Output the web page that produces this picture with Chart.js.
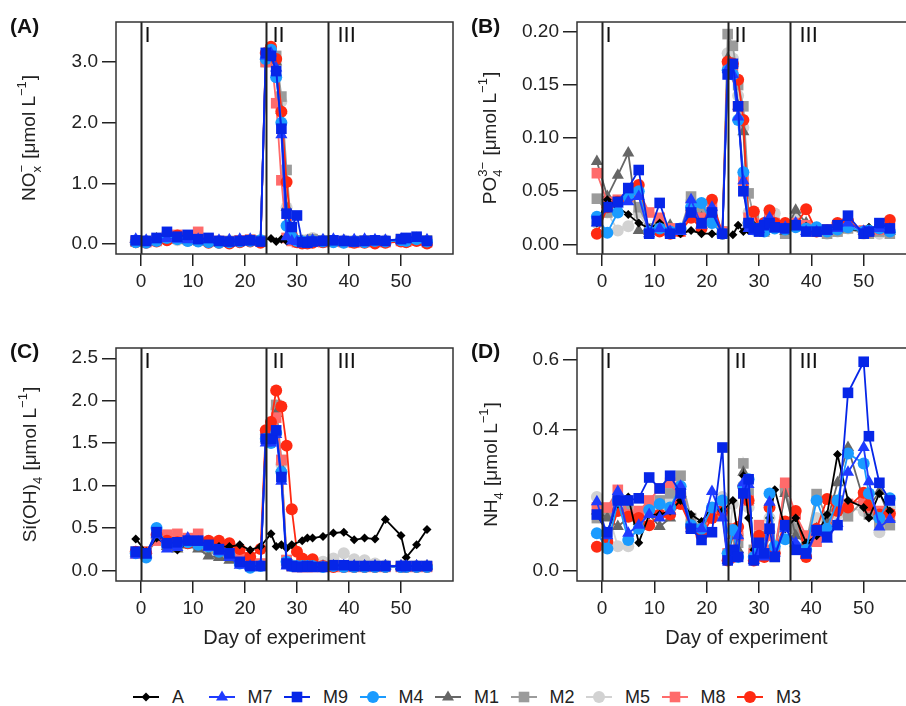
<!DOCTYPE html>
<html>
<head>
<meta charset="utf-8">
<script src="https://cdn.jsdelivr.net/npm/chart.js@4.4.1/dist/chart.umd.min.js"></script>
<style>
html, body { margin:0; padding:0; background:#fff; overflow:hidden; }
body { width:906px; height:706px; position:relative; font-family:'Liberation Sans', Arial, sans-serif; }
canvas { position:absolute; }
#legend { position:absolute; left:0; top:684px; width:906px; height:26px; }
.item { position:absolute; top:0; height:26px; display:flex; align-items:center; font-size:18px; color:#222; }
.item svg { margin-right:13px; }
</style>
</head>
<body>
<canvas id="pA" width="454" height="300" style="left:0;top:0"></canvas>
<canvas id="pB" width="470" height="300" style="left:453px;top:0"></canvas>
<canvas id="pC" width="454" height="330" style="left:0;top:320px"></canvas>
<canvas id="pD" width="470" height="330" style="left:453px;top:320px"></canvas>
<div id="legend"></div>
<script>
// sampling days (day of experiment)
const days = [-1, 1, 3, 5, 7, 9, 11, 13, 15, 17, 19, 21, 23, 24, 25, 26, 27, 28, 29, 30, 31, 32, 33, 35, 37, 39, 41, 43, 45, 47, 50, 51, 53, 55]
const phaseDays = [0, 24, 36]
const phaseNames = ['I', 'II', 'III']
const xTicks = [0, 10, 20, 30, 40, 50]

const seriesNames = ['A', 'M7', 'M9', 'M4', 'M1', 'M2', 'M5', 'M8', 'M3']

// NOx
const noxA  = [0.05,0.06,0.12,0.08,0.06,0.05,0.05,0.04,0.04,0.05,0.05,0.06,0.07, null,0.09,0.04,0.08,0.05,0.10,null,0.05,0.04,0.05,0.06,0.07,0.06,0.05,0.05,0.06,0.05,0.06,0.05,0.07,0.05]
const noxM7 = [0.08,0.06,0.07,0.09,0.08,0.07,0.08,0.07,0.06,0.07,0.08,0.08,0.05, 3.10,3.15,2.90,1.80,0.12,0.05,0.04,0.03,0.05,0.06,0.07,0.08,0.06,0.07,0.08,0.07,0.06,0.08,0.07,0.09,0.07]
const noxM9 = [0.06,0.05,0.10,0.20,0.12,0.15,0.08,0.10,0.05,0.04,0.05,0.06,0.04, 3.15,3.10,2.85,1.90,0.50,0.28,0.47,0.03,0.02,0.04,0.05,0.06,0.05,0.04,0.05,0.06,0.05,0.08,0.10,0.12,0.05]
const noxM4 = [0.03,0.02,0.05,0.10,0.08,0.05,0.04,0.03,0.02,0.03,0.04,0.05,0.06, 3.05,3.20,2.75,2.00,0.30,0.12,0.05,0.04,0.03,0.05,0.04,0.03,0.02,0.04,0.03,0.05,0.04,0.06,0.05,0.08,0.04]
const noxM1 = [0.05,0.04,0.06,0.08,0.07,0.06,0.05,0.04,0.03,0.04,0.05,0.06,0.05, 3.10,3.15,3.00,2.20,0.60,0.10,0.05,0.04,0.05,0.06,0.05,0.04,0.05,0.04,0.05,0.04,0.05,0.07,0.06,0.06,0.05]
const noxM2 = [0.04,0.05,0.07,0.10,0.09,0.07,0.06,0.05,0.04,0.05,0.06,0.07,0.06, 3.00,3.15,3.10,2.43,1.22,0.15,0.06,0.05,0.04,0.08,0.06,0.05,0.04,0.05,0.06,0.05,0.04,0.08,0.07,0.09,0.06]
const noxM5 = [0.06,0.05,0.06,0.07,0.06,0.05,0.05,0.04,0.05,0.04,0.05,0.06,0.05, 3.00,3.20,3.00,2.35,0.60,0.08,0.05,0.06,0.07,0.10,0.06,0.05,0.06,0.05,0.04,0.05,0.06,0.07,0.06,0.08,0.05]
const noxM8 = [0.04,0.03,0.05,0.12,0.15,0.10,0.20,0.08,0.05,0.04,0.06,0.07,0.05, 3.00,3.15,2.32,1.05,0.10,0.05,0.03,0.02,0.03,0.04,0.03,0.04,0.03,0.02,0.03,0.04,0.03,0.05,0.04,0.06,0.03]
const noxM3 = [0.03,0.02,0.04,0.06,0.14,0.08,0.05,0.02,0.02,0.01,0.03,0.04,0.02, 3.15,3.25,3.05,2.18,1.02,0.15,0.03,0.01,0.01,0.02,0.03,0.04,0.03,0.02,0.02,0.01,0.02,0.04,0.03,0.05,0.01]

// PO4
const poA  = [0.020,0.042,0.035,0.028,0.020,0.015,0.020,0.010,0.010,0.013,0.010,0.010,0.009, null,0.009,0.018,0.012,0.013,0.018,null,0.015,0.015,0.014,0.015,0.016,0.017,0.015,0.014,0.013,0.015,0.012,0.016,0.014,0.016]
const poM7 = [0.020,0.035,0.038,0.040,0.045,0.010,0.015,0.012,0.012,0.042,0.018,0.035,0.010, 0.165,0.160,0.120,0.060,0.015,0.012,0.014,0.020,0.025,0.015,0.016,0.020,0.012,0.012,0.012,0.015,0.020,0.012,0.012,0.015,0.014]
const poM9 = [0.022,0.035,0.040,0.053,0.070,0.010,0.039,0.010,0.015,0.030,0.020,0.030,0.010, 0.160,0.170,0.130,0.050,0.020,0.015,0.012,0.018,0.020,0.016,0.015,0.018,0.012,0.012,0.014,0.018,0.027,0.010,0.012,0.020,0.015]
const poM4 = [0.026,0.011,0.030,0.045,0.050,0.012,0.015,0.012,0.015,0.035,0.039,0.020,0.010, 0.164,0.160,0.117,0.068,0.020,0.014,0.015,0.012,0.018,0.015,0.014,0.016,0.015,0.016,0.012,0.014,0.016,0.012,0.013,0.015,0.012]
const poM1 = [0.078,0.045,0.065,0.086,0.013,0.012,0.020,0.018,0.012,0.035,0.025,0.030,0.012, 0.175,0.170,0.130,0.106,0.020,0.015,0.013,0.012,0.020,0.015,0.012,0.032,0.020,0.015,0.012,0.014,0.016,0.012,0.011,0.013,0.012]
const poM2 = [0.043,0.030,0.040,0.045,0.035,0.015,0.020,0.012,0.014,0.045,0.030,0.025,0.012, 0.198,0.187,0.150,0.130,0.048,0.025,0.015,0.012,0.028,0.020,0.010,0.020,0.015,0.012,0.010,0.012,0.015,0.010,0.010,0.012,0.010]
const poM5 = [0.020,0.030,0.013,0.017,0.030,0.012,0.015,0.012,0.012,0.040,0.030,0.020,0.012, 0.180,0.175,0.140,0.110,0.030,0.020,0.015,0.020,0.022,0.029,0.012,0.025,0.015,0.012,0.010,0.012,0.015,0.010,0.012,0.010,0.012]
const poM8 = [0.067,0.040,0.042,0.045,0.050,0.030,0.025,0.015,0.012,0.030,0.025,0.035,0.012, 0.170,0.165,0.130,0.060,0.025,0.020,0.015,0.018,0.025,0.020,0.015,0.020,0.018,0.012,0.014,0.018,0.020,0.013,0.012,0.014,0.016]
const poM3 = [0.010,0.035,0.040,0.045,0.056,0.012,0.012,0.010,0.012,0.025,0.015,0.042,0.010, 0.172,0.170,0.155,0.117,0.020,0.031,0.015,0.020,0.032,0.020,0.020,0.018,0.033,0.012,0.013,0.020,0.022,0.012,0.012,0.015,0.023]

// Si(OH)4
const siA  = [0.37,0.22,0.38,0.30,0.24,0.32,0.30,0.28,0.28,0.28,0.30,0.24,0.28, null,0.43,0.28,0.30,0.26,0.30,null,0.35,0.38,0.38,0.40,0.44,0.45,0.36,0.38,0.37,0.60,0.41,0.15,0.30,0.48]
const siM7 = [0.18,0.18,0.42,0.25,0.27,0.38,0.33,0.27,0.22,0.15,0.06,0.05,0.05, 1.50,1.50,1.60,1.05,0.05,0.05,0.04,0.04,0.04,0.04,0.04,0.05,0.05,0.05,0.05,0.05,0.05,0.05,0.05,0.05,0.05]
const siM9 = [0.22,0.20,0.45,0.32,0.33,0.35,0.35,0.30,0.25,0.20,0.10,0.05,0.05, 1.55,1.55,1.65,1.10,0.08,0.05,0.04,0.04,0.05,0.04,0.04,0.06,0.06,0.05,0.05,0.05,0.05,0.05,0.05,0.05,0.05]
const siM4 = [0.20,0.15,0.50,0.30,0.30,0.33,0.30,0.28,0.22,0.18,0.08,0.03,0.05, 1.55,1.50,1.62,1.16,0.10,0.05,0.05,0.05,0.05,0.05,0.04,0.05,0.04,0.04,0.04,0.04,0.04,0.04,0.04,0.04,0.04]
const siM1 = [0.20,0.20,0.35,0.28,0.25,0.30,0.25,0.17,0.15,0.12,0.10,0.06,0.06, 1.55,1.60,1.85,1.20,0.10,0.06,0.05,0.05,0.05,0.05,0.05,0.05,0.05,0.05,0.05,0.05,0.05,0.05,0.05,0.05,0.05]
const siM2 = [0.22,0.22,0.38,0.30,0.30,0.32,0.30,0.25,0.20,0.18,0.12,0.06,0.06, 1.60,1.65,1.95,1.30,0.12,0.06,0.05,0.05,0.05,0.05,0.05,0.05,0.05,0.05,0.05,0.05,0.05,0.05,0.05,0.05,0.05]
const siM5 = [0.22,0.20,0.38,0.30,0.28,0.32,0.30,0.27,0.22,0.20,0.15,0.08,0.06, 1.60,1.65,1.90,1.25,0.10,0.06,0.05,0.08,0.10,0.12,0.10,0.14,0.20,0.13,0.12,0.08,0.06,0.05,0.05,0.05,0.05]
const siM8 = [0.20,0.22,0.35,0.42,0.43,0.38,0.43,0.33,0.30,0.25,0.20,0.10,0.08, 1.60,1.70,1.80,1.30,0.12,0.05,0.04,0.04,0.04,0.04,0.04,0.04,0.04,0.04,0.04,0.04,0.04,0.04,0.04,0.04,0.04]
const siM3 = [0.22,0.20,0.42,0.35,0.33,0.32,0.33,0.35,0.35,0.32,0.25,0.16,0.25, 1.65,1.75,2.12,1.93,1.47,0.72,0.22,0.14,0.10,0.13,0.05,0.04,0.04,0.04,0.04,0.04,0.04,0.04,0.04,0.04,0.04]

// NH4
const nhA  = [0.16,0.11,0.19,0.21,0.08,0.16,0.16,0.17,0.20,0.16,0.14,0.18,0.17, null,0.20,0.10,0.27,0.15,0.06,null,0.05,0.15,0.23,0.12,0.15,0.08,0.10,0.16,0.33,0.20,0.18,0.15,0.22,0.17]
const nhM7 = [0.196,0.10,0.225,0.107,0.13,0.16,0.15,0.17,0.24,0.12,0.12,0.225,0.15, 0.03,0.04,0.10,0.25,0.245,0.03,0.05,0.04,0.195,0.05,0.12,0.08,0.045,0.11,0.09,0.135,0.28,0.35,0.253,0.125,0.146]
const nhM9 = [0.16,0.11,0.20,0.20,0.206,0.265,0.234,0.27,0.22,0.12,0.088,0.11,0.35, 0.03,0.06,0.04,0.22,0.26,0.03,0.08,0.05,0.12,0.04,0.13,0.06,0.05,0.116,0.097,0.13,0.505,0.593,0.382,0.25,0.20]
const nhM4 = [0.107,0.064,0.20,0.088,0.12,0.173,0.19,0.18,0.24,0.13,0.12,0.18,0.20, 0.05,0.116,0.04,0.24,0.26,0.04,0.06,0.05,0.22,0.07,0.09,0.07,0.06,0.20,0.12,0.20,0.333,0.305,0.22,0.15,0.206]
const nhM1 = [0.17,0.15,0.126,0.15,0.14,0.16,0.126,0.15,0.22,0.14,0.12,0.16,0.18, 0.04,0.10,0.06,0.28,0.20,0.05,0.07,0.06,0.12,0.06,0.22,0.10,0.08,0.12,0.14,0.25,0.35,0.20,0.18,0.225,0.15]
const nhM2 = [0.15,0.16,0.20,0.18,0.15,0.18,0.20,0.22,0.27,0.15,0.12,0.17,0.16, 0.04,0.12,0.08,0.305,0.22,0.06,0.10,0.05,0.10,0.04,0.23,0.12,0.08,0.218,0.15,0.20,0.155,0.20,0.16,0.135,0.13]
const nhM5 = [0.21,0.17,0.07,0.07,0.15,0.17,0.18,0.20,0.22,0.14,0.13,0.17,0.21, 0.05,0.19,0.10,0.24,0.18,0.05,0.08,0.05,0.15,0.06,0.24,0.12,0.10,0.15,0.14,0.16,0.18,0.17,0.18,0.11,0.18]
const nhM8 = [0.18,0.18,0.23,0.16,0.17,0.20,0.234,0.25,0.21,0.12,0.11,0.16,0.17, 0.05,0.12,0.10,0.22,0.20,0.05,0.13,0.06,0.10,0.05,0.25,0.16,0.10,0.083,0.12,0.18,0.19,0.20,0.18,0.17,0.16]
const nhM3 = [0.069,0.083,0.17,0.154,0.15,0.13,0.16,0.16,0.19,0.126,0.10,0.15,0.17, 0.03,0.04,0.125,0.24,0.20,0.03,0.10,0.04,0.18,0.05,0.14,0.17,0.04,0.12,0.204,0.17,0.18,0.222,0.187,0.16,0.163]

const noxTicks = [0, 1, 2, 3]
const poTicks = [0, 0.05, 0.1, 0.15, 0.2]
const siTicks = [0, 0.5, 1, 1.5, 2, 2.5]
const nhTicks = [0, 0.2, 0.4, 0.6]

// styling
const seriesColors = ['#000000', '#1f3bff', '#0626e8', '#1a9bff', '#666666', '#9b9b9b', '#d2d2d2', '#ff6b6b', '#ff2a12']
const seriesShapes = ['rectRot', 'triangle', 'rect', 'circle', 'triangle', 'rect', 'circle', 'rect', 'circle']
const stackOrder = [3, 1, 0, 2, 6, 7, 8, 5, 4] // lower = drawn on top
const shapeRadius = { rectRot: 4.5, triangle: 7, rect: 7.5, circle: 6 }
const FONT = "'Liberation Sans', Arial, sans-serif"
const INK = '#222'

// draws a rotated axis label with sub/superscripts
function drawRichLabel(ctx, parts, x, y, size) {
    ctx.save()
    ctx.translate(x, y)
    ctx.rotate(-Math.PI / 2)
    ctx.fillStyle = INK
    ctx.textBaseline = 'alphabetic'
    const small = Math.round(size * 0.68)
    const widthOf = p => {
        if (p.s) { ctx.font = `${size}px ${FONT}`; return ctx.measureText(p.s).width }
        ctx.font = `${small}px ${FONT}`
        return Math.max(p.sub ? ctx.measureText(p.sub).width : 0, p.sup ? ctx.measureText(p.sup).width : 0) + 1
    }
    const total = parts.reduce((a, p) => a + widthOf(p), 0)
    let cx = -total / 2
    const base = size * 0.36
    parts.forEach(p => {
        const w = widthOf(p)
        if (p.s) {
            ctx.font = `${size}px ${FONT}`
            ctx.fillText(p.s, cx, base)
        } else {
            ctx.font = `${small}px ${FONT}`
            if (p.sub) ctx.fillText(p.sub, cx, base + size * 0.3)
            if (p.sup) ctx.fillText(p.sup, cx, base - size * 0.45)
        }
        cx += w
    })
    ctx.restore()
}

function buildChart(cfg) {
    const datasets = cfg.values.map((vals, i) => ({
        label: seriesNames[i],
        data: days.map((d, j) => ({ x: d, y: vals[j] })),
        borderColor: seriesColors[i],
        backgroundColor: seriesColors[i],
        pointStyle: seriesShapes[i],
        pointRadius: shapeRadius[seriesShapes[i]],
        pointBorderWidth: 0,
        borderWidth: 1.8,
        tension: 0,
        spanGaps: true,
        order: stackOrder[i]
    }))

    const deco = {
        id: 'deco',
        afterDatasetsDraw(chart) {
            const { ctx, chartArea } = chart
            const xs = chart.scales.x
            ctx.save()
            ctx.strokeStyle = INK
            ctx.lineWidth = 2
            phaseDays.forEach((d, k) => {
                const px = Math.round(xs.getPixelForValue(d)) + 0.5
                ctx.beginPath()
                ctx.moveTo(px, chartArea.top)
                ctx.lineTo(px, chartArea.bottom)
                ctx.stroke()
                ctx.fillStyle = '#111'
                ctx.font = `22px ${FONT}`
                ctx.textBaseline = 'top'
                ctx.textAlign = 'left'
                ctx.fillText(phaseNames[k], px + [3, 6, 9][k], chartArea.top + 3)
            })
            ctx.restore()
        },
        afterDraw(chart) {
            const { ctx, chartArea } = chart
            ctx.save()
            ctx.strokeStyle = '#333'
            ctx.lineWidth = 1.5
            ctx.strokeRect(chartArea.left, chartArea.top, chartArea.right - chartArea.left, chartArea.bottom - chartArea.top)
            ctx.fillStyle = '#111'
            ctx.font = `bold 21px ${FONT}`
            ctx.textBaseline = 'middle'
            ctx.fillText(cfg.tag, cfg.tagX, cfg.tagY)
            drawRichLabel(ctx, cfg.yLabel, cfg.labelX, (chartArea.top + chartArea.bottom) / 2, 19)
            ctx.restore()
        }
    }

    return new Chart(document.getElementById(cfg.id), {
        type: 'line',
        data: { datasets },
        options: {
            responsive: false,
            animation: false,
            devicePixelRatio: 1,
            events: [],
            layout: { autoPadding: false, padding: { top: cfg.top, right: cfg.right, left: 0, bottom: 0 } },
            plugins: { legend: { display: false }, tooltip: { enabled: false } },
            scales: {
                x: {
                    type: 'linear',
                    min: -4.8,
                    max: 60,
                    afterBuildTicks: s => { s.ticks = xTicks.map(v => ({ value: v })) },
                    afterFit: s => { s.height = cfg.xh },
                    grid: { drawOnChartArea: false, drawTicks: true, tickLength: 12, color: INK, lineWidth: 1.5 },
                    border: { display: false },
                    ticks: { font: { size: 19, family: FONT }, color: INK, padding: 4, maxRotation: 0, autoSkip: false },
                    title: { display: cfg.xTitle, text: 'Day of experiment', font: { size: 20, family: FONT }, color: INK, padding: { top: 0, bottom: 0 } }
                },
                y: {
                    type: 'linear',
                    min: cfg.yMin,
                    max: cfg.yMax,
                    afterBuildTicks: s => { s.ticks = cfg.yTicks.map(v => ({ value: v })) },
                    afterFit: s => { s.width = cfg.yw },
                    grid: { drawOnChartArea: false, drawTicks: true, tickLength: 14, color: INK, lineWidth: 1.5 },
                    border: { display: false },
                    ticks: { font: { size: 19, family: FONT }, color: INK, padding: 4, callback: v => Number(v).toFixed(cfg.dec) }
                }
            }
        },
        plugins: [deco]
    })
}

const mu = '\u03bc'
buildChart({
    id: 'pA', values: [noxA, noxM7, noxM9, noxM4, noxM1, noxM2, noxM5, noxM8, noxM3],
    yMin: -0.165, yMax: 3.659, yTicks: noxTicks, dec: 1,
    top: 22, right: 1, yw: 116, xh: 46, xTitle: false,
    tag: '(A)', tagX: 10, tagY: 27, labelX: 28,
    yLabel: [{ s: 'NO' }, { sub: 'x', sup: '\u2212' }, { s: ' [' + mu + 'mol L' }, { sup: '\u22121' }, { s: ']' }]
})
buildChart({
    id: 'pB', values: [poA, poM7, poM9, poM4, poM1, poM2, poM5, poM8, poM3],
    yMin: -0.0091, yMax: 0.2094, yTicks: poTicks, dec: 2,
    top: 22, right: 7, yw: 124, xh: 46, xTitle: false,
    tag: '(B)', tagX: 18, tagY: 27, labelX: 36,
    yLabel: [{ s: 'PO' }, { sub: '4', sup: '3\u2212' }, { s: ' [' + mu + 'mol L' }, { sup: '\u22121' }, { s: ']' }]
})
buildChart({
    id: 'pC', values: [siA, siM7, siM9, siM4, siM1, siM2, siM5, siM8, siM3],
    yMin: -0.126, yMax: 2.621, yTicks: siTicks, dec: 1,
    top: 28, right: 1, yw: 116, xh: 69, xTitle: true,
    tag: '(C)', tagX: 10, tagY: 32, labelX: 29,
    yLabel: [{ s: 'Si(OH)' }, { sub: '4' }, { s: ' [' + mu + 'mol L' }, { sup: '\u22121' }, { s: ']' }]
})
buildChart({
    id: 'pD', values: [nhA, nhM7, nhM9, nhM4, nhM1, nhM2, nhM5, nhM8, nhM3],
    yMin: -0.0283, yMax: 0.632, yTicks: nhTicks, dec: 1,
    top: 28, right: 7, yw: 124, xh: 69, xTitle: true,
    tag: '(D)', tagX: 18, tagY: 32, labelX: 37,
    yLabel: [{ s: 'NH' }, { sub: '4' }, { s: ' [' + mu + 'mol L' }, { sup: '\u22121' }, { s: ']' }]
})

// legend: line + marker, then name
function markerSvg(shape, color) {
    let m
    if (shape === 'rectRot') m = `<polygon points="13,8.5 17.5,13 13,17.5 8.5,13" fill="${color}"/>`
    else if (shape === 'triangle') m = `<polygon points="13,6.5 19,16.5 7,16.5" fill="${color}"/>`
    else if (shape === 'rect') m = `<rect x="7.7" y="7.7" width="10.6" height="10.6" fill="${color}"/>`
    else m = `<circle cx="13" cy="13" r="6" fill="${color}"/>`
    return `<svg width="26" height="26"><line x1="0" y1="13" x2="26" y2="13" stroke="${color}" stroke-width="2"/>${m}</svg>`
}
const legend = document.getElementById('legend')
seriesNames.forEach((name, i) => {
    const item = document.createElement('div')
    item.className = 'item'
    item.style.left = (133 + i * 75.5) + 'px'
    item.innerHTML = markerSvg(seriesShapes[i], seriesColors[i]) + `<span>${name}</span>`
    legend.appendChild(item)
})
</script>
</body>
</html>
